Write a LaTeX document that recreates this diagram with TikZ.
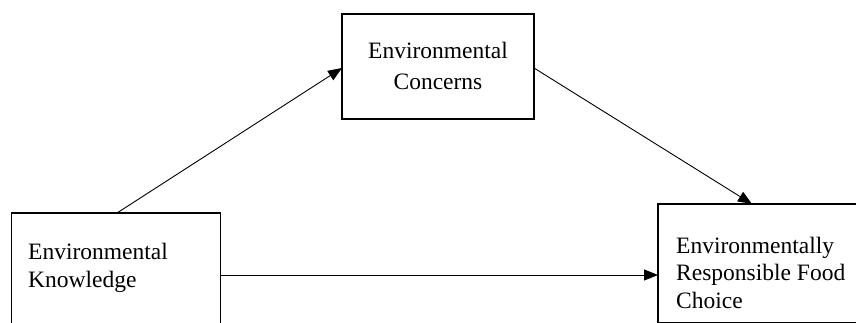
\documentclass[tikz,border=0pt]{standalone}
\usepackage{fontspec}
\setmainfont{Liberation Serif}
\usetikzlibrary{arrows.meta,calc}
\begin{document}
\begin{tikzpicture}[x=1pt,y=-1pt,
  box/.style={draw, line width=1.1pt, inner sep=0pt, outer sep=0pt, anchor=north west},
  lbl/.style={font=\fontsize{23.5}{28}\selectfont, inner sep=0pt, anchor=base west},
  clbl/.style={font=\fontsize{23.5}{28}\selectfont, inner sep=0pt, anchor=base},
  arr/.style={-{Triangle[length=14pt,width=11pt]}, line width=0.9pt}]
\useasboundingbox (0,0) rectangle (856,323);
\clip (0,0) rectangle (856,323);
\node[box, minimum width=192pt, minimum height=105pt] (conc) at (342,14) {};
\node[box, minimum width=209pt, minimum height=130pt] (know) at (11.7,213) {};
\node[box, minimum width=220pt, minimum height=118.7pt] (resp) at (658,204) {};
% texts
\node[clbl] (c1) at (438,59) {Environmental};
\node[clbl] (c2) at (438,90) {Concerns};
\node[lbl] (k1) at (28,259) {Environmental};
\node[lbl] (k2) at (28,287) {Knowledge};
\node[lbl] (r1) at (676,253) {Environmentally};
\node[lbl] (r2) at (676,280.5) {Responsible Food};
\node[lbl] (r3) at (676,308) {Choice};
% connectors
\coordinate (kTop) at ($(know.north west)+(105.3,0)$);
\coordinate (cIn) at ($(conc.north west)+(0,54)$);
\coordinate (cOut) at ($(conc.north east)+(0,54)$);
\coordinate (rTop) at ($(resp.north west)+(94,0)$);
\coordinate (kRight) at ($(know.north east)+(0,62)$);
\draw[arr] (kTop) -- (cIn);
\draw[arr] (cOut) -- (rTop);
\draw[arr] (kRight) -- (kRight -| resp.west);
\end{tikzpicture}
\end{document}
